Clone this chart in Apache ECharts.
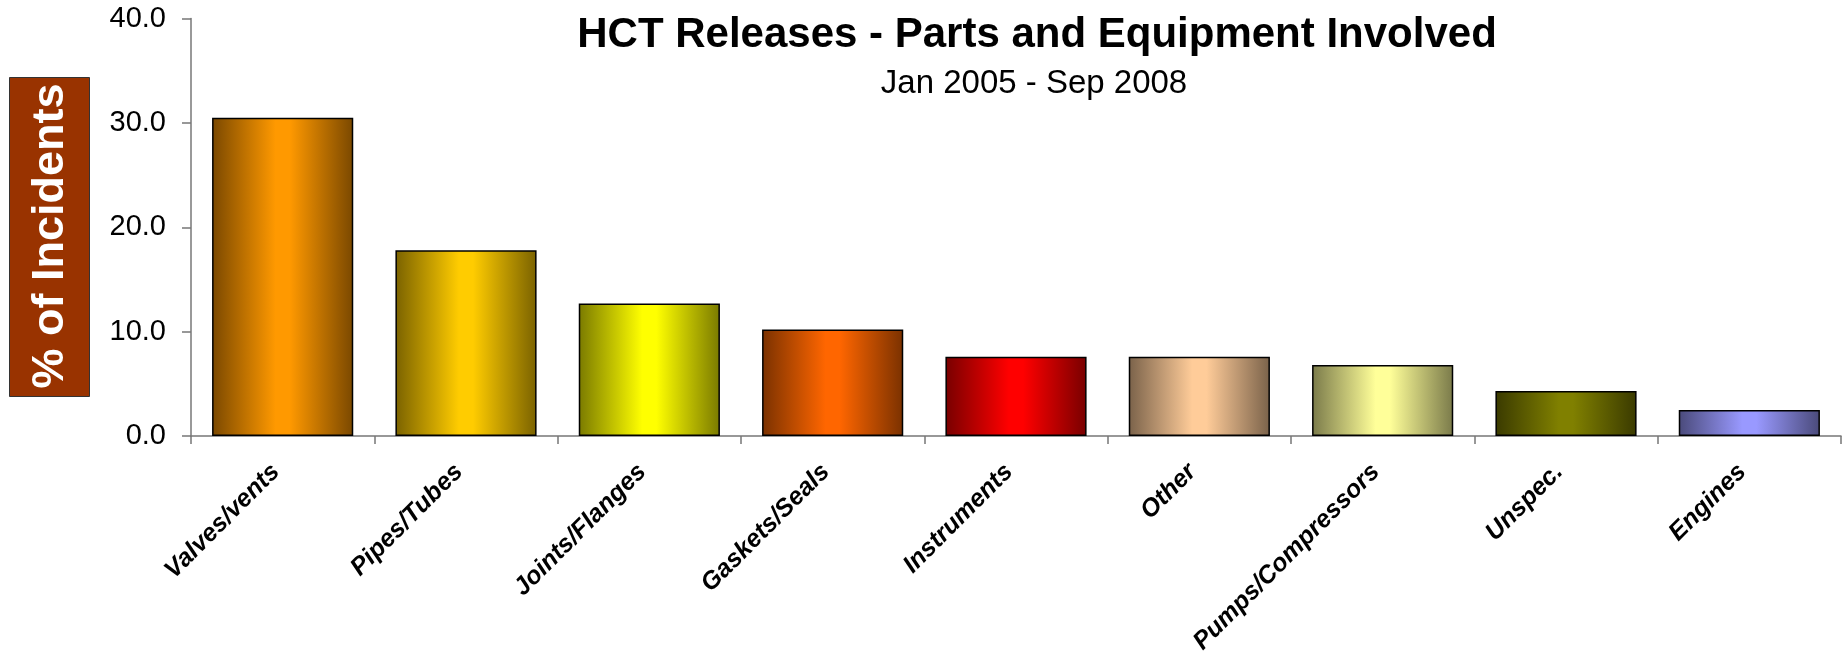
<!DOCTYPE html>
<html>
<head>
<meta charset="utf-8">
<script src="https://cdn.jsdelivr.net/npm/echarts@6/dist/echarts.min.js"></script>
<style>
html,body{margin:0;padding:0;background:#fff;}
#chart{width:1843px;height:654px;}
</style>
</head>
<body>
<div id="chart"></div>
<script>
const categories = ['Valves/vents','Pipes/Tubes','Joints/Flanges','Gaskets/Seals','Instruments','Other','Pumps/Compressors','Unspec.','Engines'];
const values = [30.5, 17.8, 12.7, 10.2, 7.6, 7.6, 6.8, 4.3, 2.5];
const centerColors = ['#FF9900','#FFCC00','#FFFF00','#FF6600','#FF0000','#FFCC99','#FFFF99','#808000','#9999FF'];
const edgeColors = ['#7A4800','#7A6200','#7A7A00','#7A3100','#780000','#7A624A','#7A7A4A','#3A3A00','#4A4A7A'];
const yTickLabels = ['0.0','10.0','20.0','30.0','40.0'];
const titleText = 'HCT Releases - Parts and Equipment Involved';
const subtitleText = 'Jan 2005 - Sep 2008';
const yAxisTitle = '% of Incidents';

const FONT = '"Liberation Sans", Arial, sans-serif';
const chart = echarts.init(document.getElementById('chart'));

function grad(i){
  return new echarts.graphic.LinearGradient(0,0,1,0,[
    {offset:0, color:edgeColors[i]},
    {offset:0.45, color:centerColors[i]},
    {offset:0.55, color:centerColors[i]},
    {offset:1, color:edgeColors[i]}
  ]);
}

chart.setOption({
  backgroundColor:'#ffffff',
  animation:false,
  title:[
    {text:titleText, left:1032, top:9, textAlign:'center',
     textStyle:{fontFamily:FONT, fontSize:42, fontWeight:'bold', color:'#000'}},
    {text:subtitleText, left:1029, top:62, textAlign:'center',
     textStyle:{fontFamily:FONT, fontSize:33, fontWeight:'normal', color:'#000'}}
  ],
  graphic:[
    {type:'rect', left:9, top:77, shape:{width:80, height:319},
     style:{fill:'#993300', stroke:'#333', lineWidth:1}},
    {type:'text', x:51, y:236, rotation:Math.PI/2,
     style:{text:yAxisTitle, fill:'#fff', fontFamily:FONT, fontSize:45, fontWeight:'bold',
            textAlign:'center', textVerticalAlign:'middle'}}
  ],
  grid:{left:191, right:2, top:18.5, bottom:218, containLabel:false, outerBoundsMode:'none'},
  xAxis:{
    type:'category', data:categories,
    axisLine:{lineStyle:{color:'#777', width:1.5}},
    axisTick:{show:true, length:8, lineStyle:{color:'#777', width:1.5}},
    axisLabel:{rotate:45, margin:25, interval:0, fontFamily:FONT, fontSize:25,
               padding:[0,10,0,0],
               fontWeight:'bold', fontStyle:'italic', color:'#000'}
  },
  yAxis:{
    type:'value', min:0, max:40, interval:10,
    axisLine:{show:true, lineStyle:{color:'#777', width:1.5}},
    axisTick:{show:true, length:9, lineStyle:{color:'#777', width:1.5}},
    splitLine:{show:false},
    axisLabel:{margin:25, fontFamily:FONT, fontSize:29, color:'#000',
               formatter:function(v){return yTickLabels[Math.round(v/10)];}}
  },
  series:[{
    type:'bar', barWidth:'77%',
    data: values.map(function(v,i){
      return {value:v, itemStyle:{color:grad(i), borderColor:'#000', borderWidth:1.5}};
    })
  }]
});
</script>
</body>
</html>
